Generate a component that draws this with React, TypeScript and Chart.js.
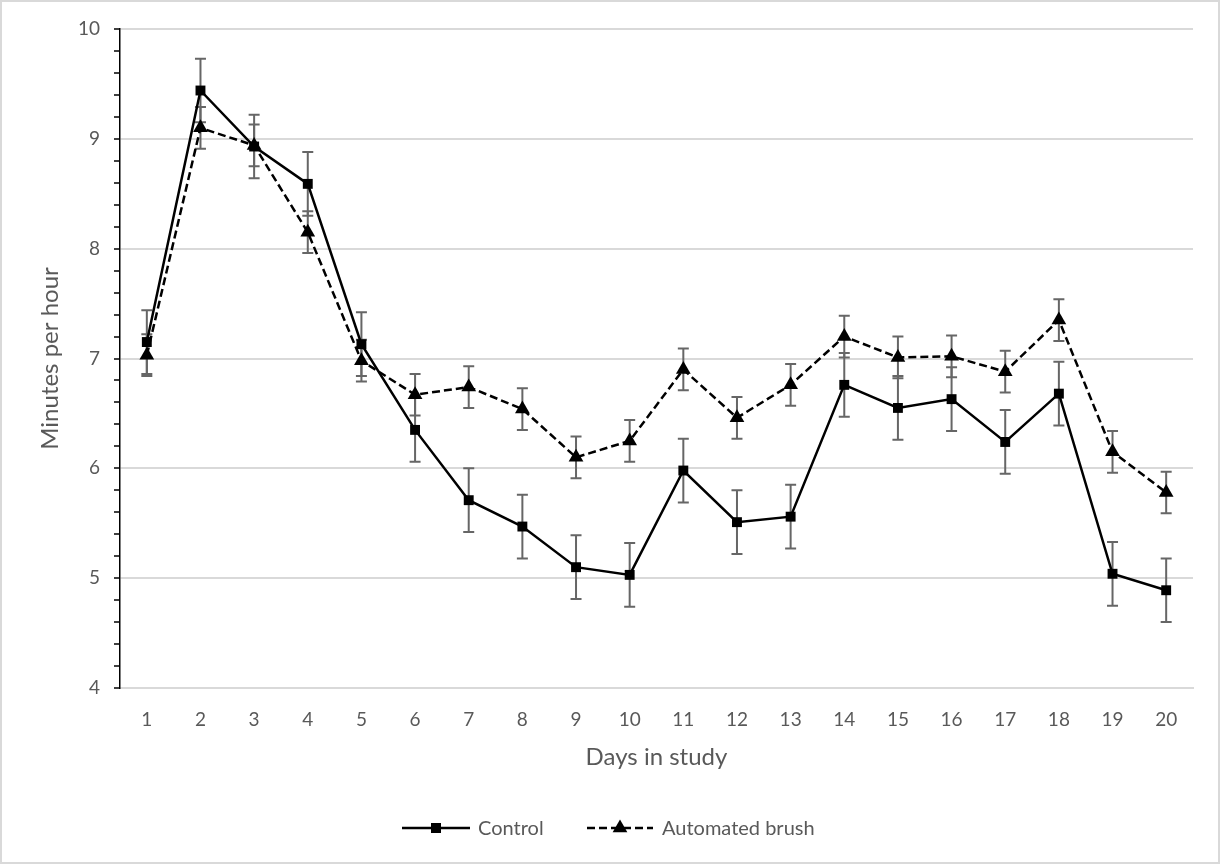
import React, { useEffect, useRef } from "react";
import { Chart, registerables } from "chart.js";

Chart.register(...registerables);

const days = ["1","2","3","4","5","6","7","8","9","10","11","12","13","14","15","16","17","18","19","20"];
const controlValues = [7.15, 9.44, 8.93, 8.59, 7.13, 6.35, 5.71, 5.47, 5.10, 5.03, 5.98, 5.51, 5.56, 6.76, 6.55, 6.63, 6.24, 6.68, 5.04, 4.89];
const controlErrors = [0.29, 0.29, 0.29, 0.29, 0.29, 0.29, 0.29, 0.29, 0.29, 0.29, 0.29, 0.29, 0.29, 0.29, 0.29, 0.29, 0.29, 0.29, 0.29, 0.29];
const brushValues = [7.03, 9.10, 8.94, 8.15, 6.98, 6.67, 6.74, 6.54, 6.10, 6.25, 6.90, 6.46, 6.76, 7.20, 7.01, 7.02, 6.88, 7.35, 6.15, 5.78];
const brushErrors = [0.19, 0.19, 0.19, 0.19, 0.19, 0.19, 0.19, 0.19, 0.19, 0.19, 0.19, 0.19, 0.19, 0.19, 0.19, 0.19, 0.19, 0.19, 0.19, 0.19];
const seriesNames = ["Control", "Automated brush"];
const xTitle = "Days in study";
const yTitle = "Minutes per hour";

const FONT = "Lato, 'Open Sans', sans-serif";
const TEXT = "#595959";

const errorBarPlugin = {
  id: "errorBars",
  beforeDatasetsDraw(chart: any) {
    const { ctx } = chart;
    const y = chart.scales.y;
    const errs = [controlErrors, brushErrors];
    ctx.save();
    ctx.strokeStyle = "#666666";
    ctx.lineWidth = 2;
    chart.data.datasets.forEach((ds: any, di: number) => {
      const meta = chart.getDatasetMeta(di);
      meta.data.forEach((pt: any, i: number) => {
        const v = ds.data[i];
        const e = errs[di][i];
        const top = y.getPixelForValue(v + e);
        const bot = y.getPixelForValue(v - e);
        const x = pt.x;
        ctx.beginPath();
        ctx.moveTo(x, top);
        ctx.lineTo(x, bot);
        ctx.moveTo(x - 5.5, top);
        ctx.lineTo(x + 5.5, top);
        ctx.moveTo(x - 5.5, bot);
        ctx.lineTo(x + 5.5, bot);
        ctx.stroke();
      });
    });
    ctx.restore();
  },
};

const decorPlugin = {
  id: "decor",
  afterDraw(chart: any) {
    const { ctx } = chart;
    ctx.save();
    // outer border
    ctx.strokeStyle = "#d9d9d9";
    ctx.lineWidth = 2;
    ctx.strokeRect(1, 1, chart.width - 2, chart.height - 2);
    // legend
    const ly = 828;
    ctx.strokeStyle = "#000";
    ctx.fillStyle = "#000";
    ctx.lineWidth = 2.5;
    ctx.setLineDash([]);
    ctx.beginPath();
    ctx.moveTo(402, ly);
    ctx.lineTo(470, ly);
    ctx.stroke();
    ctx.fillRect(436 - 5, ly - 5, 10, 10);
    ctx.setLineDash([8, 4]);
    ctx.beginPath();
    ctx.moveTo(587, ly);
    ctx.lineTo(653, ly);
    ctx.stroke();
    ctx.setLineDash([]);
    const r = 8.5;
    ctx.beginPath();
    ctx.moveTo(620, ly - r);
    ctx.lineTo(620 + r * 0.866, ly + r / 2);
    ctx.lineTo(620 - r * 0.866, ly + r / 2);
    ctx.closePath();
    ctx.fill();
    ctx.fillStyle = TEXT;
    ctx.font = `20px ${FONT}`;
    ctx.textBaseline = "middle";
    ctx.textAlign = "left";
    ctx.fillText(seriesNames[0], 478, ly + 1);
    ctx.fillText(seriesNames[1], 662, ly + 1);
    ctx.restore();
  },
};

export default function App() {
  const ref = useRef<HTMLCanvasElement>(null);
  useEffect(() => {
    if (!ref.current) return;
    Chart.defaults.font.family = FONT;
    Chart.defaults.color = TEXT;
    const isMajor = (v: number) => Math.abs(v - Math.round(v)) < 1e-6;
    const chart = new Chart(ref.current, {
      type: "line",
      data: {
        labels: days,
        datasets: [
          {
            label: seriesNames[0],
            data: controlValues,
            borderColor: "#000",
            backgroundColor: "#000",
            borderWidth: 2.5,
            pointStyle: "rect",
            pointRadius: 7,
            pointBorderWidth: 0,
            tension: 0,
          },
          {
            label: seriesNames[1],
            data: brushValues,
            borderColor: "#000",
            backgroundColor: "#000",
            borderWidth: 2.5,
            borderDash: [8, 4],
            pointStyle: "triangle",
            pointRadius: 8.5,
            pointBorderWidth: 0,
            tension: 0,
          },
        ],
      },
      options: {
        animation: false,
        responsive: true,
        maintainAspectRatio: false,
        layout: { padding: { left: 0, right: 27, top: 29, bottom: 74 } },
        plugins: {
          legend: { display: false },
          tooltip: { enabled: false },
        },
        scales: {
          x: {
            type: "category",
            offset: true,
            grid: { display: false, drawTicks: false },
            border: { display: true, color: "#d9d9d9", width: 2 },
            ticks: { padding: 20, color: TEXT, font: { size: 19 }, autoSkip: false, maxRotation: 0 },
            title: { display: true, text: xTitle, color: TEXT, font: { size: 24 }, padding: { top: 0, bottom: 18 } },
            afterFit: (s: any) => { s.height = 102; },
          },
          y: {
            min: 4,
            max: 10,
            ticks: {
              stepSize: 0.2,
              autoSkip: false,
              padding: 14,
              color: TEXT,
              font: { size: 19 },
              callback: (v: any) => (isMajor(Number(v)) ? String(Math.round(Number(v))) : ""),
            },
            grid: {
              color: (c: any) => (isMajor(c.tick.value) ? "#d9d9d9" : "rgba(0,0,0,0)"),
              lineWidth: 2,
              tickColor: "#000",
              tickLength: 6,
              tickWidth: 1.5,
            },
            border: { display: true, color: "#000", width: 1.5 },
            title: { display: true, text: yTitle, color: TEXT, font: { size: 24 }, padding: { top: 36, bottom: 0 } },
            afterFit: (s: any) => { s.width = 120; },
          },
        },
      },
      plugins: [errorBarPlugin, decorPlugin],
    });
    return () => chart.destroy();
  }, []);
  return (
    <div style={{ position: "fixed", left: 0, top: 0, width: 1220, height: 864, background: "#fff" }}>
      <canvas ref={ref} />
    </div>
  );
}
